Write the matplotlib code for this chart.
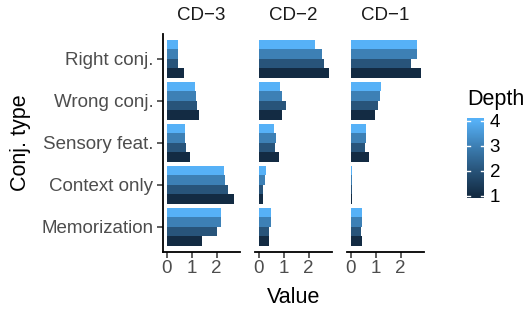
import numpy as np
import matplotlib.pyplot as plt
from matplotlib.colors import LinearSegmentedColormap

plt.rcParams['font.family'] = ['Liberation Sans', 'DejaVu Sans']

categories = ['Memorization', 'Context only', 'Sensory feat.', 'Wrong conj.', 'Right conj.']
facets = ['CD\u22123', 'CD\u22122', 'CD\u22121']
depths = [1, 2, 3, 4]

# values[facet][depth] -> one value per category (same order as categories)
cd3 = {1: [1.40, 2.68, 0.92, 1.28, 0.68],
       2: [2.00, 2.44, 0.76, 1.20, 0.44],
       3: [2.16, 2.32, 0.72, 1.16, 0.44],
       4: [2.16, 2.28, 0.72, 1.12, 0.44]}
cd2 = {1: [0.40, 0.16, 0.80, 0.92, 2.80],
       2: [0.40, 0.16, 0.64, 1.08, 2.60],
       3: [0.48, 0.24, 0.68, 0.92, 2.52],
       4: [0.48, 0.28, 0.60, 0.84, 2.24]}
cd1 = {1: [0.44, 0.04, 0.72, 0.96, 2.80],
       2: [0.40, 0.04, 0.56, 1.08, 2.40],
       3: [0.44, 0.04, 0.60, 1.16, 2.64],
       4: [0.44, 0.04, 0.60, 1.20, 2.64]}
panels = [cd3, cd2, cd1]

cmap = LinearSegmentedColormap.from_list('gg', ['#132B43', '#28547A', '#3D80B5', '#56B1F7'])

fig = plt.figure(figsize=(5.24, 3.12), dpi=100)
W, H = 524, 312
lefts = [163, 255, 347]
pw = 77
top, bottom = 33.7, 252
tick_col = '#4D4D4D'

bw = 0.225
y = np.arange(len(categories))
for k, (vals, left) in enumerate(zip(panels, lefts)):
    ax = fig.add_axes([left / W, (H - bottom) / H, pw / W, (bottom - top) / H])
    for d in depths:
        off = (d - 2.5) * bw
        ax.barh(y + off, vals[d], height=bw, color=cmap((d - 1) / 3), linewidth=0)
    ax.set_xlim(-0.14, 2.94)
    ax.set_ylim(-0.6, len(categories) - 0.4)
    ax.set_xticks([0, 1, 2])
    ax.tick_params(axis='x', length=4, width=1.1, color='#333333', labelcolor=tick_col,
                   labelsize=13.5, pad=2)
    for s in ['top', 'right']:
        ax.spines[s].set_visible(False)
    ax.spines['bottom'].set_linewidth(1.3)
    if k == 0:
        ax.set_yticks(y)
        ax.set_yticklabels(categories)
        ax.tick_params(axis='y', length=4, width=1.1, color='#333333', labelcolor=tick_col,
                       labelsize=13.5, pad=3)
        ax.spines['left'].set_linewidth(1.3)
        ax.set_ylabel('Conj. type', fontsize=15.5, labelpad=7)
    else:
        ax.set_yticks([])
        ax.spines['left'].set_visible(False)
    ax.set_title(facets[k], fontsize=13.5, pad=10, color='#1A1A1A')
    if k == 1:
        ax.set_xlabel('Value', fontsize=15.5, labelpad=7)

# colorbar legend
cax = fig.add_axes([467 / W, (H - 198) / H, 17 / W, 80 / H])
grad = np.linspace(0.9, 4.1, 256).reshape(-1, 1)
cax.imshow(grad, aspect='auto', cmap=cmap, origin='lower', extent=[0, 1, 0.9, 4.1],
           vmin=1, vmax=4)
for d in depths:
    cax.plot([0, 0.2], [d, d], color='white', lw=1)
    cax.plot([0.8, 1], [d, d], color='white', lw=1)
cax.set_xlim(0, 1)
cax.set_ylim(0.9, 4.1)
cax.set_xticks([])
cax.yaxis.tick_right()
cax.set_yticks(depths)
cax.tick_params(axis='y', length=0, labelsize=13.5, pad=4)
for s in cax.spines.values():
    s.set_visible(False)
fig.text(467 / W, (H - 99) / H, 'Depth', fontsize=15.5, va='center', ha='left')

fig.savefig('out.png', dpi=100)
